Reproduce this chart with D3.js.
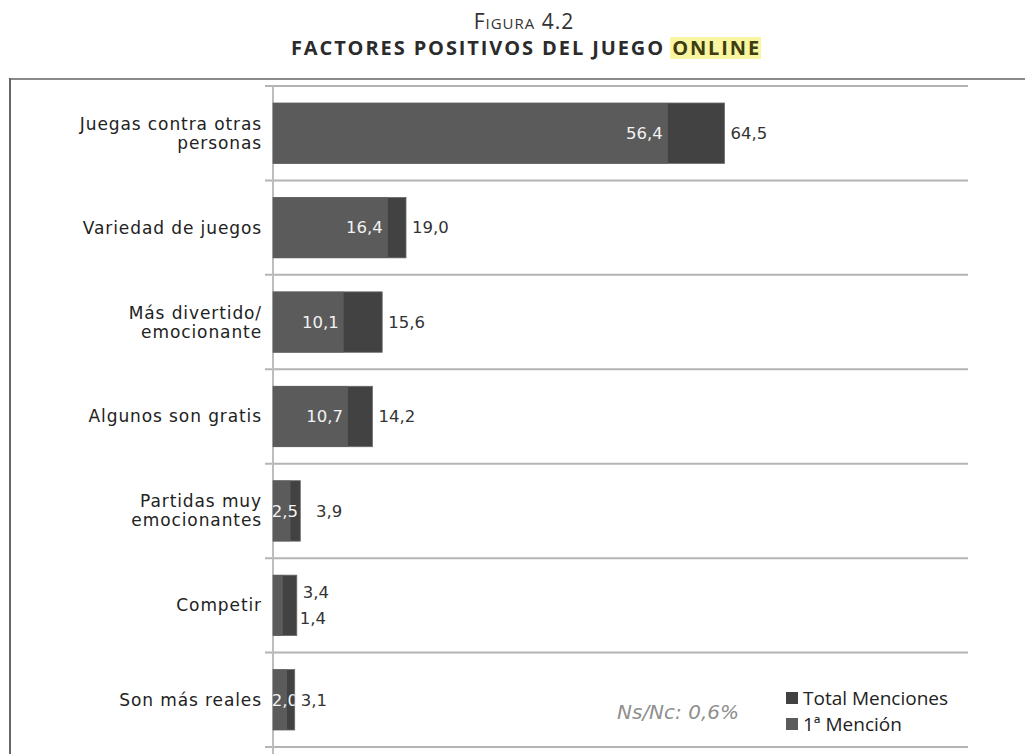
<!DOCTYPE html>
<html>
<head>
<meta charset="utf-8">
<script src="https://cdn.jsdelivr.net/npm/d3@7"></script>
<style>
  body { margin: 0; background: #fff; }
  svg { display: block; }
  .sans { font-family: "DejaVu Sans", Verdana, sans-serif; }
</style>
</head>
<body>
<div id="chart"></div>
<script>
// data
const categories = [
    "Juegas contra otras|personas",
    "Variedad de juegos",
    "Más divertido/|emocionante",
    "Algunos son gratis",
    "Partidas muy|emocionantes",
    "Competir",
    "Son más reales"
];
const primeraMencion = [56.4, 16.4, 10.1, 10.7, 2.5, 1.4, 2.0];
const totalMenciones = [64.5, 19.0, 15.6, 14.2, 3.9, 3.4, 3.1];
const seriesNames = ["Total Menciones", "1ª Mención"];

const fmt = v => v.toFixed(1).replace(".", ",");

const W = 1025, H = 754;
const svg = d3.select("#chart").append("svg")
    .attr("width", W)
    .attr("height", H);

const colTotal = "#424242";
const colFirst = "#5b5b5b";

// frame
svg.append("line").attr("x1", 10).attr("x2", W).attr("y1", 79).attr("y2", 79)
    .attr("stroke", "#8a8a8a").attr("stroke-width", 2);
svg.append("line").attr("x1", 10).attr("x2", 10).attr("y1", 78).attr("y2", H)
    .attr("stroke", "#666").attr("stroke-width", 2);

// highlight layer goes under the title
const hlLayer = svg.append("g");

// title
svg.append("text")
    .attr("x", 524).attr("y", 29)
    .attr("text-anchor", "middle")
    .attr("font-family", "Open Sans, sans-serif")
    .attr("font-size", 21)
    .attr("letter-spacing", 1)
    .style("font-variant", "small-caps")
    .attr("fill", "#333")
    .text("Figura 4.2");

const title = svg.append("text")
    .attr("x", 526).attr("y", 55)
    .attr("text-anchor", "middle")
    .attr("font-family", "Open Sans, sans-serif")
    .attr("font-size", 20)
    .attr("font-weight", "bold")
    .attr("letter-spacing", 1.9)
    .attr("fill", "#2b2b2b");
title.append("tspan").text("FACTORES POSITIVOS DEL JUEGO ");
const hl = title.append("tspan").attr("fill", "#3d3d10").text("ONLINE");

const hn = hl.node();
const s0 = hn.getStartPositionOfChar(0);
const e0 = hn.getEndPositionOfChar(hn.getNumberOfChars() - 1);
hlLayer.append("rect")
    .attr("x", s0.x - 2).attr("y", 37).attr("width", e0.x - s0.x + 2).attr("height", 22)
    .attr("fill", "#faf5a0");

// scales
const y = d3.scaleBand()
    .domain(d3.range(categories.length))
    .range([86, 747])
    .paddingInner(0.36)
    .paddingOuter(0.18);

const x = d3.scaleLinear().domain([0, 100]).range([273, 973]);

const g = svg.append("g");

// row separators
const seps = d3.range(categories.length + 1).map(i => 86 + i * (747 - 86) / categories.length);
g.selectAll(".sep").data(seps).enter().append("line")
    .attr("x1", 265).attr("x2", 968)
    .attr("y1", d => d).attr("y2", d => d)
    .attr("stroke", "#b4b4b4").attr("stroke-width", 2);

// axis line
g.append("line").attr("x1", x(0)).attr("x2", x(0)).attr("y1", 86).attr("y2", H)
    .attr("stroke", "#bdbdbd").attr("stroke-width", 2);

const rows = categories.map((c, i) => ({ c, i, first: primeraMencion[i], total: totalMenciones[i] }));

const defs = svg.append("defs");
defs.selectAll("clipPath").data(rows).enter().append("clipPath")
    .attr("id", d => "clip" + d.i)
    .append("rect")
    .attr("x", x(0)).attr("y", d => y(d.i))
    .attr("width", d => x(d.total) - x(0)).attr("height", y.bandwidth());

// bars
g.selectAll(".tot").data(rows).enter().append("rect")
    .attr("x", x(0)).attr("y", d => y(d.i))
    .attr("width", d => x(d.total) - x(0)).attr("height", y.bandwidth())
    .attr("fill", colTotal).attr("stroke", "#6a6a6a").attr("stroke-width", 0.8);
g.selectAll(".fst").data(rows).enter().append("rect")
    .attr("x", x(0)).attr("y", d => y(d.i))
    .attr("width", d => x(d.first) - x(0)).attr("height", y.bandwidth())
    .attr("fill", colFirst);

const valSize = 16.5;

// value labels
rows.forEach(d => {
    const cy = y(d.i) + y.bandwidth() / 2;
    const wFirst = x(d.first) - x(0);
    if (wFirst >= 12) {
        g.append("text").attr("class", "sans")
            .attr("clip-path", `url(#clip${d.i})`)
            .attr("x", Math.max(x(d.first) - 5, x(0) + 25))
            .attr("y", cy).attr("dy", "0.35em")
            .attr("text-anchor", "end")
            .attr("font-size", valSize)
            .attr("fill", "#f2f2f2")
            .text(fmt(d.first));
        // total label pushed right when the inner label spills out of the bar
        const spill = wFirst >= 15 && wFirst < 20;
        g.append("text").attr("class", "sans")
            .attr("x", spill ? x(0) + 43 : x(d.total) + 6)
            .attr("y", cy).attr("dy", "0.35em")
            .attr("font-size", valSize)
            .attr("fill", "#333")
            .text(fmt(d.total));
    } else {
        g.append("text").attr("class", "sans")
            .attr("x", x(d.total) + 6)
            .attr("y", cy - 13).attr("dy", "0.35em")
            .attr("font-size", valSize)
            .attr("fill", "#333")
            .text(fmt(d.total));
        g.append("text").attr("class", "sans")
            .attr("x", x(d.total) + 3)
            .attr("y", cy + 13).attr("dy", "0.35em")
            .attr("font-size", valSize)
            .attr("fill", "#333")
            .text(fmt(d.first));
    }
});

// category labels
rows.forEach(d => {
    const lines = d.c.split("|");
    const cy = y(d.i) + y.bandwidth() / 2;
    const t = g.append("text").attr("class", "sans")
        .attr("text-anchor", "end")
        .attr("font-size", 17)
        .attr("letter-spacing", 0.9)
        .attr("fill", "#222");
    lines.forEach((l, k) => {
        t.append("tspan")
            .attr("x", 262)
            .attr("y", cy + (k - (lines.length - 1) / 2) * 19)
            .attr("dy", "0.35em")
            .text(l);
    });
});

// note
svg.append("text").attr("class", "sans")
    .attr("x", 617).attr("y", 712).attr("dy", "0.35em")
    .attr("font-size", 20)
    .style("font-style", "italic")
    .attr("fill", "#8f8f8f")
    .text("Ns/Nc: 0,6%");

// legend
const legColors = [colTotal, colFirst];
const leg = svg.append("g").attr("transform", "translate(786,698)");
seriesNames.forEach((s, i) => {
    leg.append("rect").attr("x", 0).attr("y", i * 26 - 6).attr("width", 12).attr("height", 12)
        .attr("fill", legColors[i]);
    leg.append("text").attr("x", 17).attr("y", i * 26).attr("dy", "0.35em")
        .attr("font-family", "Open Sans, sans-serif").attr("font-size", 19)
        .attr("fill", "#222")
        .text(s);
});
</script>
</body>
</html>
